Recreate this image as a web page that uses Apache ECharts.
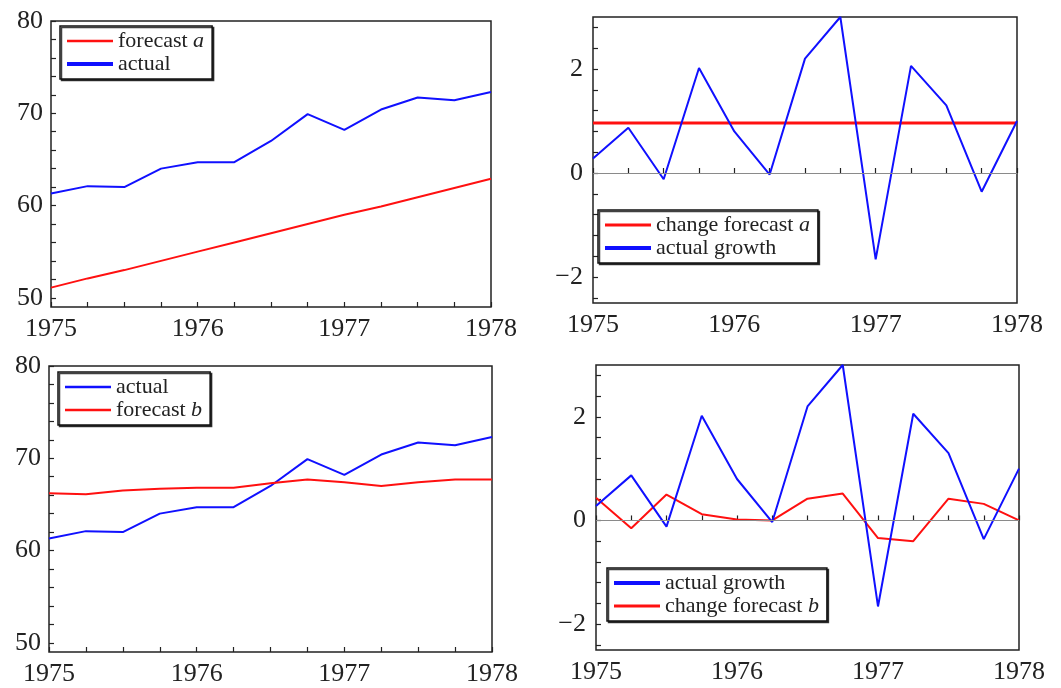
<!DOCTYPE html>
<html>
<head>
<meta charset="utf-8">
<script src="https://cdn.jsdelivr.net/npm/echarts@6/dist/echarts.min.js"></script>
<style>html,body{margin:0;padding:0;background:#fff}#c{width:1061px;height:688px}</style>
</head>
<body>
<div id="c"></div>
<script>
// ---- data (quarterly) ----
const quarters = [1975, 1975.25, 1975.5, 1975.75, 1976, 1976.25, 1976.5, 1976.75, 1977, 1977.25, 1977.5, 1977.75, 1978];
const yearLabels = [1975, 1976, 1977, 1978];
const actual = [61.3, 62.1, 62.0, 64.0, 64.7, 64.7, 67.0, 69.9, 68.2, 70.4, 71.7, 71.4, 72.3];
const forecastA = [51.1, 52.1, 53.0, 54.0, 55.0, 56.0, 57.0, 58.0, 59.0, 59.9, 60.9, 61.9, 62.9];
const forecastB = [66.2, 66.1, 66.5, 66.7, 66.8, 66.8, 67.3, 67.7, 67.4, 67.0, 67.4, 67.7, 67.7];
const actualGrowth = [0.28, 0.87, -0.12, 2.02, 0.8, -0.03, 2.2, 3.0, -1.66, 2.06, 1.3, -0.36, 1.0];
const changeForecastA = [0.96, 0.96, 0.96, 0.96, 0.96, 0.96, 0.96, 0.96, 0.96, 0.96, 0.96, 0.96, 0.96];
const changeForecastB = [0.44, -0.15, 0.5, 0.12, 0.02, 0.0, 0.42, 0.52, -0.34, -0.4, 0.42, 0.32, 0.0];
const levelTicks = [50, 52, 54, 56, 58, 60, 62, 64, 66, 68, 70, 72, 74, 76, 78, 80];
const levelLabels = [50, 60, 70, 80];
const growthTicks = [-2.4, -2, -1.6, -1.2, -0.8, -0.4, 0, 0.4, 0.8, 1.2, 1.6, 2, 2.4, 2.8];
const growthLabels = [-2, 0, 2];

const RED = '#ff1010', BLUE = '#1010ff', INK = '#222';
const FONT = 'Liberation Serif';

function pairs(ys) { return quarters.map((q, i) => [q, ys[i]]); }
function icon(t) {
  if (t >= 4) return 'path://M0,0H46V4H0Z';
  const a = (4 - t) / 2, b = a + t;
  return 'path://M0,0H46V0.01H0ZM0,' + a + 'H46V' + b + 'H0ZM0,3.99H46V4H0Z';
}

const grids = [
  {left: 51, right: 570, top: 21, bottom: 381},
  {left: 593, right: 44, top: 17, bottom: 385},
  {left: 49, right: 569, top: 366, bottom: 36},
  {left: 596, right: 42, top: 365, bottom: 38}
].map(g => Object.assign(g, {show: true, borderColor: INK, borderWidth: 1.5, backgroundColor: 'transparent'}));

const xAxes = [0, 1, 2, 3].map(i => ({
  type: 'value', gridIndex: i, min: 1975, max: 1978, interval: 0.25,
  axisLine: {show: false}, splitLine: {show: false},
  axisTick: {show: true, inside: true, length: 5, lineStyle: {color: INK, width: 1.2}},
  axisLabel: {
    customValues: yearLabels, margin: 9, color: INK, fontFamily: FONT, fontSize: 26,
    showMinLabel: true, showMaxLabel: true, formatter: v => String(Math.round(v))
  }
}));

function yAxis(i, level) {
  return {
    type: 'value', gridIndex: i,
    min: level ? 49 : -2.5, max: level ? 80 : 3,
    axisLine: {show: false}, splitLine: {show: false},
    axisTick: {show: true, inside: true, length: 5, customValues: level ? levelTicks : growthTicks, lineStyle: {color: INK, width: 1.2}},
    axisLabel: {
      customValues: level ? levelLabels : growthLabels, margin: level ? 8 : 10,
      color: INK, fontFamily: FONT, fontSize: 26,
      formatter: v => (v < 0 ? '\u2212' + Math.abs(v) : String(v))
    }
  };
}
const yAxes = [yAxis(0, true), yAxis(1, false), yAxis(2, true), yAxis(3, false)];

function line(name, ys, color, idx, width, extra) {
  return Object.assign({
    type: 'line', name: name, data: pairs(ys), xAxisIndex: idx, yAxisIndex: idx,
    showSymbol: false, symbol: 'none', color: color,
    lineStyle: {color: color, width: width}, z: 3
  }, extra || {});
}
const zeroLine = {
  silent: true, symbol: 'none', label: {show: false},
  lineStyle: {color: '#8a8a8a', width: 1, type: 'solid'},
  data: [{yAxis: 0}], animation: false
};

const series = [
  line('forecast a', forecastA, RED, 0, 2),
  line('actual', actual, BLUE, 0, 2),
  line('change forecast a', changeForecastA, RED, 1, 3, {markLine: zeroLine, z: 2}),
  line('actual growth', actualGrowth, BLUE, 1, 2),
  line('actual', actual, BLUE, 2, 2),
  line('forecast b', forecastB, RED, 2, 2),
  line('actual growth', actualGrowth, BLUE, 3, 2),
  line('change forecast b', changeForecastB, RED, 3, 2, {markLine: zeroLine, z: 2})
];

function legend(left, top, items) {
  return {
    left: left, top: top, orient: 'vertical', selectedMode: false,
    itemWidth: 46, itemHeight: 4, itemGap: 1, padding: [4, 8, 4, 7],
    borderColor: '#111', borderWidth: 1.5, backgroundColor: '#fff',
    shadowColor: 'rgba(0,0,0,0.75)', shadowOffsetX: 1.5, shadowOffsetY: 1.5, shadowBlur: 0,
    data: items.map(it => ({name: it[0], icon: icon(it[1])})),
    formatter: n => n.replace(/ ([ab])$/, ' {i|$1}'),
    textStyle: {
      color: INK, fontFamily: FONT, fontSize: 22, lineHeight: 22,
      rich: {i: {fontStyle: 'italic', fontFamily: FONT, fontSize: 22, color: INK}}
    }
  };
}

const legends = [
  legend(60, 26, [['forecast a', 2.5], ['actual', 4]]),
  legend(598, 210, [['change forecast a', 3], ['actual growth', 4]]),
  legend(58, 372, [['actual', 2.5], ['forecast b', 2.5]]),
  legend(607, 568, [['actual growth', 4], ['change forecast b', 3]])
];

const chart = echarts.init(document.getElementById('c'));
chart.setOption({
  animation: false,
  backgroundColor: '#fff',
  grid: grids, xAxis: xAxes, yAxis: yAxes, legend: legends, series: series
});
</script>
</body>
</html>
